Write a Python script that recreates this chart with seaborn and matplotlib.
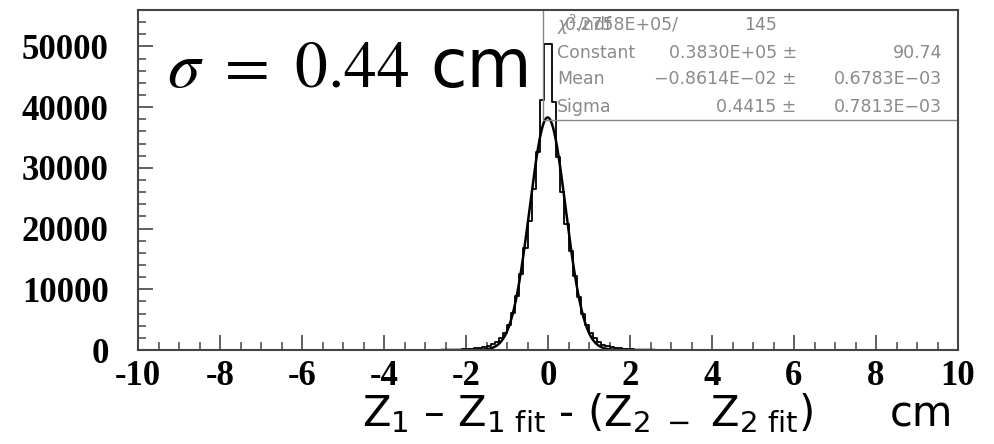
import numpy as np
import pandas as pd
import matplotlib
matplotlib.use("Agg")
import matplotlib.pyplot as plt
import seaborn as sns

# Histogram of Z1 - Z1fit - (Z2 - Z2fit): bin width 0.1 cm, counts for bins -3.0 .. 3.0
bin_lo = -3.0
bin_width = 0.1
counts = [
    # -3.0 .. -2.5
    8, 10, 13, 16, 20,
    # -2.5 .. -2.0
    25, 35, 50, 70, 95,
    # -2.0 .. -1.5
    130, 180, 250, 340, 470,
    # -1.5 .. -1.0
    660, 920, 1330, 1950, 2850,
    # -1.0 .. -0.5
    4150, 6100, 8900, 12500, 16800,
    # -0.5 .. 0.0
    21300, 26500, 32600, 41200, 50400,
    # 0.0 .. 0.5
    50400, 40900, 31800, 26000, 20700,
    # 0.5 .. 1.0
    16300, 12200, 8700, 6000, 4100,
    # 1.0 .. 1.5
    2800, 1900, 1300, 900, 650,
    # 1.5 .. 2.0
    470, 340, 250, 180, 130,
    # 2.0 .. 2.5
    95, 70, 50, 35, 25,
    # 2.5 .. 3.0
    20, 16, 13, 10, 8,
]

# Gaussian fit parameters
fit_constant = 0.3830e5
fit_mean = -0.8614e-2
fit_sigma = 0.4415

stat_rows = [
    ("Constant", "0.3830E+05 \u00b1", "90.74"),
    ("Mean", "\u22120.8614E\u221202 \u00b1", "0.6783E\u221203"),
    ("Sigma", "0.4415 \u00b1", "0.7813E\u221203"),
]

x_ticks = [-10, -8, -6, -4, -2, 0, 2, 4, 6, 8, 10]
y_ticks = [0, 10000, 20000, 30000, 40000, 50000]

sns.set_theme(style="white")
plt.rcParams["font.family"] = ["DejaVu Sans"]

n_bins = len(counts)
centers = bin_lo + bin_width * (np.arange(n_bins) + 0.5)
hist_df = pd.DataFrame({"x": centers, "n": counts})

xf = np.linspace(-2.6, 2.6, 600)
fit_df = pd.DataFrame({"x": xf,
                       "y": fit_constant * np.exp(-0.5 * ((xf - fit_mean) / fit_sigma) ** 2)})

fig = plt.figure(figsize=(9.94, 4.44), dpi=100)
ax = fig.add_axes([138 / 994, 1 - 350 / 444, (958 - 138) / 994, (350 - 10) / 444])

sns.histplot(data=hist_df, x="x", weights="n", binwidth=bin_width,
             binrange=(bin_lo, bin_lo + bin_width * n_bins), element="step",
             fill=False, color="black", linewidth=1.3, ax=ax)
sns.lineplot(data=fit_df, x="x", y="y", color="black", linewidth=1.8, ax=ax)

ax.set_xlim(-10, 10)
ax.set_ylim(0, 56000)
ax.set_xticks(x_ticks)
ax.set_xticks(np.arange(-10, 10.01, 0.5), minor=True)
ax.set_yticks(y_ticks)
ax.set_yticks(np.arange(0, 56001, 2000), minor=True)
ax.set_xticklabels([str(t) for t in x_ticks])
ax.set_yticklabels([str(t) for t in y_ticks])
ax.tick_params(axis="both", which="major", direction="in", length=11, width=1.2,
               color="#444444", labelcolor="black")
ax.tick_params(axis="both", which="minor", direction="in", length=5.5, width=1.1,
               color="#444444")
ax.tick_params(axis="x", which="major", pad=7)
ax.tick_params(axis="y", which="major", pad=21)
ax.tick_params(axis="both", which="both", top=False, right=False, bottom=True, left=True)
for lab in ax.get_xticklabels() + ax.get_yticklabels():
    lab.set_fontfamily("Liberation Serif")
    lab.set_fontweight("bold")
    lab.set_fontsize(25)
    lab.set_color("black")
for sp in ax.spines.values():
    sp.set_color("#444444")
    sp.set_linewidth(1.5)
ax.set_xlabel("")
ax.set_ylabel("")

# Statistics box in the upper right corner
box_left = -0.12
box_bottom = 37900
ax.plot([box_left, box_left], [box_bottom, 56000], color="#888888", lw=1.0)
ax.plot([box_left, 10], [box_bottom, box_bottom], color="#888888", lw=1.0)

stat_kw = dict(color="#8a8a8a", fontsize=12.5, fontfamily="DejaVu Sans",
               va="center")
x_name = 0.22
x_val = 6.07
x_err = 9.61
ax.text(x_name, 53580, r"$\chi^2$/ndf", **stat_kw)
ax.text(0.41, 53580, "0.2758E+05/", ha="left", **stat_kw)
ax.text(5.585, 53580, "145", ha="right", **stat_kw)
row_y = [48900, 44700, 40060]
for (name, val, err), yy in zip(stat_rows, row_y):
    ax.text(x_name, yy, name, ha="left", **stat_kw)
    ax.text(x_val, yy, val, ha="right", **stat_kw)
    ax.text(x_err, yy, err, ha="right", **stat_kw)

# Resolution annotation
ax.text(-9.3, 43400, r"$\sigma\ =\ 0.44$", fontsize=47, math_fontfamily="stix",
        va="baseline", ha="left", color="black")
ax.text(-2.88, 43400, "cm", fontsize=48, fontfamily="DejaVu Sans",
        va="baseline", ha="left", color="black")

# Axis title
fig.text(362 / 994, 18 / 444,
         "Z$_1$ \u2013 Z$_{1\\ \\mathrm{fit}}$ - (Z$_{2\\ -}$ Z$_{2\\ \\mathrm{fit}}$)",
         fontsize=30, fontfamily="DejaVu Sans", math_fontfamily="dejavusans",
         ha="left", va="baseline", color="black")
fig.text(890 / 994, 18 / 444, "cm", fontsize=30, fontfamily="DejaVu Sans",
         ha="left", va="baseline", color="black")

fig.savefig("out.png", dpi=100, facecolor="white")
